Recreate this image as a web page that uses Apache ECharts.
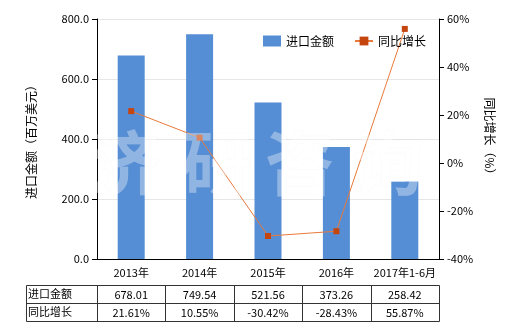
<!DOCTYPE html>
<html><head><meta charset="utf-8">
<script src="https://cdn.jsdelivr.net/npm/echarts@6/dist/echarts.min.js"></script>
<style>html,body{margin:0;padding:0;background:#fff}#c{width:520px;height:330px}</style>
</head><body><div id="c"></div>
<script>
var categories = ['2013年','2014年','2015年','2016年','2017年1-6月'];
var importValues = [678.01, 749.54, 521.56, 373.26, 258.42];
var growthValues = [21.61, 10.55, -30.42, -28.43, 55.87];
var importLabels = ['678.01','749.54','521.56','373.26','258.42'];
var growthLabels = ['21.61%','10.55%','-30.42%','-28.43%','55.87%'];
var seriesNames = ['进口金额','同比增长'];
var watermark = ['济','研','咨','询'];

var FONT = '"Noto Sans CJK SC", "Noto Sans", sans-serif';
var chart = echarts.init(document.getElementById('c'), null, {renderer:'canvas'});
var L = 97, R = 439, T = 19, B = 259;
var colW = (R - L) / categories.length;
var tTop = 285, rowH = 18, tLeft = 26;

var g = [];
var lineStyle = {stroke:'#333', lineWidth:1};
g.push({type:'rect', shape:{x:tLeft+0.5, y:tTop+0.5, width:R-tLeft, height:rowH*2}, style:{fill:'none', stroke:'#333', lineWidth:1}, z:10});
g.push({type:'line', shape:{x1:tLeft, y1:tTop+rowH+0.5, x2:R+0.5, y2:tTop+rowH+0.5}, style:lineStyle, z:10});
for (var i = 0; i < categories.length; i++) {
  var x = Math.round(L + colW*i) + 0.5;
  g.push({type:'line', shape:{x1:x, y1:tTop, x2:x, y2:tTop+rowH*2}, style:lineStyle, z:10});
}
g.push({type:'text', left:tLeft+2, top:tTop+3, style:{text:seriesNames[0], font:'11px '+FONT, fill:'#000'}, z:10});
g.push({type:'text', left:tLeft+2, top:tTop+rowH+3, style:{text:seriesNames[1], font:'11px '+FONT, fill:'#000'}, z:10});
for (var i = 0; i < categories.length; i++) {
  var cx = L + colW*(i+0.5);
  g.push({type:'text', x:cx, y:tTop+rowH/2+1, style:{text:importLabels[i], font:'11px '+FONT, fill:'#000', align:'center', verticalAlign:'middle'}, z:10});
  g.push({type:'text', x:cx, y:tTop+rowH*1.5+1, style:{text:growthLabels[i], font:'11px '+FONT, fill:'#000', align:'center', verticalAlign:'middle'}, z:10});
}
var wmX = [125, 217, 300, 388];
for (var i = 0; i < watermark.length; i++) {
  g.push({type:'text', x:wmX[i], y:163, style:{text:watermark[i], font:'bold 70px '+FONT, fill:'rgba(255,255,255,0.35)', stroke:'rgba(210,210,210,0.06)', lineWidth:1, align:'center', verticalAlign:'middle'}, z:100});
}

chart.setOption({
  animation:false,
  textStyle:{fontFamily:FONT},
  grid:{left:L, right:520-R, top:T, bottom:330-B},
  legend:{
    top:30, left:258, itemGap:20, itemWidth:18, itemHeight:11,
    textStyle:{fontSize:12, color:'#000', fontFamily:FONT},
    data:[{name:seriesNames[0], icon:'rect'}, {name:seriesNames[1]}]
  },
  xAxis:{
    type:'category', data:categories,
    axisLine:{lineStyle:{color:'#000'}},
    axisTick:{alignWithLabel:true, lineStyle:{color:'#000'}},
    axisLabel:{color:'#000', fontSize:11, margin:8, interval:0}
  },
  yAxis:[
    {type:'value', min:0, max:800, interval:200, name:'进口金额（百万美元）',
     nameLocation:'middle', nameGap:60, nameTextStyle:{fontSize:12, color:'#000'},
     axisLine:{show:true, lineStyle:{color:'#000'}}, axisTick:{show:true, lineStyle:{color:'#000'}},
     axisLabel:{color:'#000', fontSize:11, formatter:function(v){return v.toFixed(1);}},
     splitLine:{lineStyle:{color:'#e6e6e6'}}},
    {type:'value', min:-40, max:60, interval:20, name:'同比增长（%）',
     nameLocation:'middle', nameGap:44, nameRotate:-90, nameTextStyle:{fontSize:12, color:'#000'},
     axisLine:{show:true, lineStyle:{color:'#000'}}, axisTick:{show:true, lineStyle:{color:'#000'}},
     axisLabel:{color:'#000', fontSize:11, formatter:'{value}%'},
     splitLine:{show:false}}
  ],
  series:[
    {name:seriesNames[0], type:'bar', data:importValues, barWidth:27, itemStyle:{color:'#558ed5'}},
    {name:seriesNames[1], type:'line', yAxisIndex:1, data:growthValues, symbol:'rect', symbolSize:6,
     lineStyle:{color:'#e8793a', width:1}, itemStyle:{color:'#c5450f'}}
  ],
  graphic:g
});
</script></body></html>
